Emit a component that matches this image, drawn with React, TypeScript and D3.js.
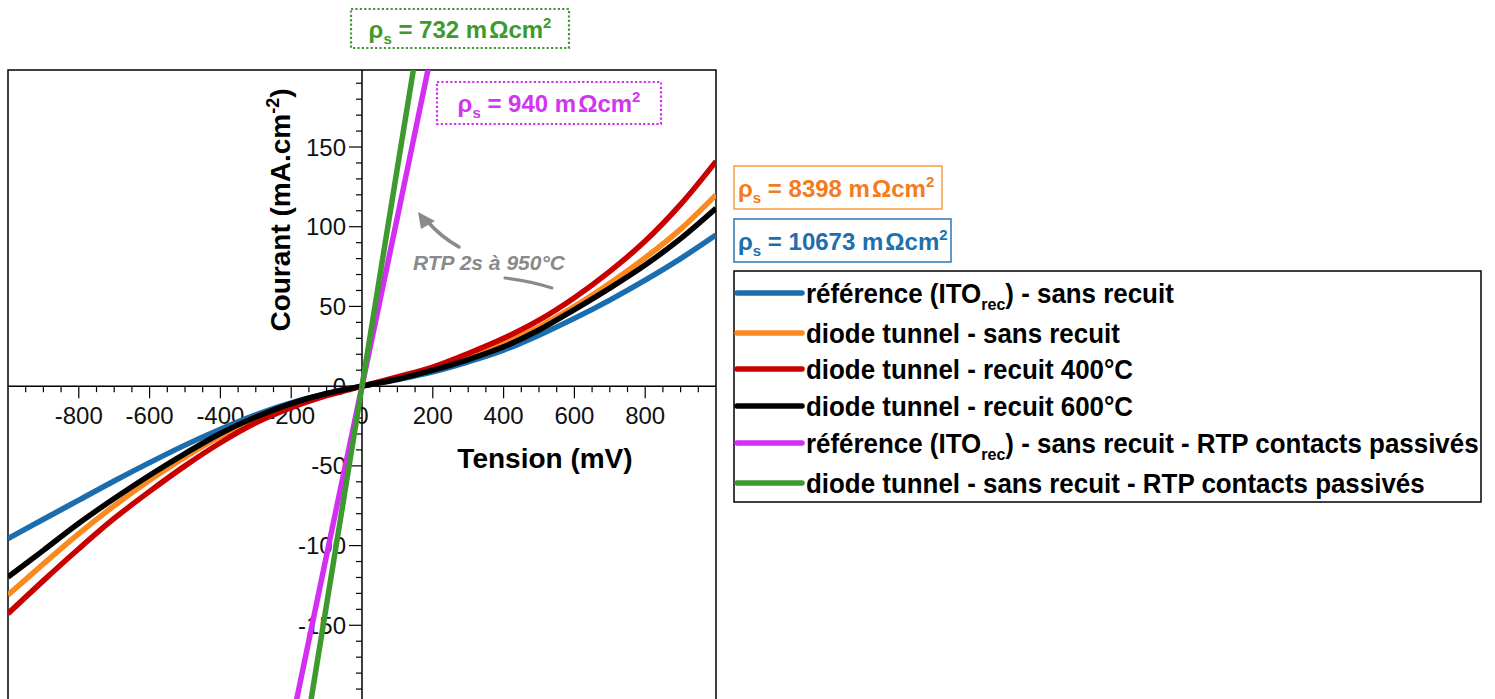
import React from 'react';
import * as d3 from 'd3';

// ---------- data ----------
const voltages = [-1000, -900, -800, -700, -600, -500, -400, -300, -200, -100, 0, 100, 200, 300, 400, 500, 600, 700, 800, 900, 1000];
const refSansRecuit = [-95.6, -83.5, -71.5, -59.5, -48, -37, -27, -18, -10.5, -4.8, 0, 4.2, 9, 15.3, 22.6, 32, 42.5, 54, 66.5, 80, 94.8];
const tunnelSansRecuit = [-131, -111.5, -92.5, -75, -59, -44.5, -31.5, -20.5, -12, -5.2, 0, 4.8, 10.6, 18, 26.8, 37.2, 50, 64.5, 80.5, 98.5, 120];
const tunnelRecuit400 = [-142.7, -122, -102, -83, -66, -50, -35.5, -23, -13.5, -6, 0, 5.8, 12, 20.5, 30, 41.4, 55.5, 72, 91, 114, 141];
const tunnelRecuit600 = [-119.7, -103, -86, -70.5, -55.9, -42.3, -29.7, -19.3, -10.9, -4.6, 0, 4.3, 10, 16.7, 24.7, 35.2, 48, 61.5, 76, 92.5, 111.5];

const rtpVoltages = [-200, -100, 0, 100, 200];
const refRtp = [-213, -106, 0, 106, 213];
const tunnelRtp = [-273, -137, 0, 137, 273];

const seriesLabels = [
  'référence (ITO_rec) - sans recuit',
  'diode tunnel - sans recuit',
  'diode tunnel - recuit 400°C',
  'diode tunnel - recuit 600°C',
  'référence (ITO_rec) - sans recuit - RTP contacts passivés',
  'diode tunnel - sans recuit - RTP contacts passivés',
];
const seriesColors = ['#1b6dae', '#fb8a1e', '#c80000', '#000000', '#d42ef4', '#3e9a2e'];

const xMajorTicks = [-800, -600, -400, -200, 0, 200, 400, 600, 800];
const yMajorTicks = [-150, -100, -50, 0, 50, 100, 150];

const resistivities = ['732', '940', '8398', '10673'];
const annotationText = 'RTP 2s à 950°C';

// ---------- layout ----------
const W = 1495;
const H = 699;
const plot = { left: 8, right: 716, top: 70, bottom: 705 };
const FONT = "'Liberation Sans', Arial, Helvetica, sans-serif";

const x = d3.scaleLinear().domain([-1000, 1000]).range([plot.left, plot.right]);
const y = d3.scaleLinear().domain([-200, 198.3]).range([plot.bottom, plot.top]);

const series = [
  { xs: voltages, ys: refSansRecuit },
  { xs: voltages, ys: tunnelSansRecuit },
  { xs: voltages, ys: tunnelRecuit400 },
  { xs: voltages, ys: tunnelRecuit600 },
  { xs: rtpVoltages, ys: refRtp },
  { xs: rtpVoltages, ys: tunnelRtp },
].map((s, i) => ({
  ...s,
  color: seriesColors[i],
  label: seriesLabels[i],
  points: s.xs.map((v, k) => [v, s.ys[k]] as [number, number]),
}));

const line = d3
  .line<[number, number]>()
  .x((d) => x(d[0]))
  .y((d) => y(d[1]))
  .curve(d3.curveCatmullRom.alpha(0.5));

function LabelWithSub({ text, x0, y0, size }: { text: string; x0: number; y0: number; size: number }) {
  const m = text.match(/^(.*)_(\w+)(.*)$/);
  return (
    <g transform={`translate(${x0},${y0}) scale(0.96,1)`}>
      <text x={0} y={0} fontSize={size} fontWeight="bold" fontFamily={FONT}>
        {m ? (
          <>
            {m[1]}
            <tspan fontSize={size * 0.62} dy={7}>{m[2]}</tspan>
            <tspan dy={-7}>{m[3]}</tspan>
          </>
        ) : (
          text
        )}
      </text>
    </g>
  );
}

function Rho({ value, x0, y0, color, anchor }: { value: string; x0: number; y0: number; color: string; anchor: string }) {
  return (
    <text x={x0} y={y0} fill={color} fontSize={24} fontWeight="bold" fontFamily={FONT} textAnchor={anchor as any}>
      ρ
      <tspan fontSize={15} dy={6}>s</tspan>
      <tspan dy={-6}>{` = ${value} m`}</tspan>
      <tspan dx={2}>Ωcm</tspan>
      <tspan fontSize={15} dy={-10}>2</tspan>
    </text>
  );
}

export default function App() {
  const xMinor = d3.range(-950, 1000, 50).filter((v) => v % 200 !== 0);
  const yMinor = d3.range(-190, 200, 10).filter((v) => v % 50 !== 0);
  const x0 = x(0);
  const y0 = y(0);

  const legendRows = [293, 333, 369, 406, 443, 483];

  return (
    <svg
      width={W}
      height={H}
      viewBox={`0 0 ${W} ${H}`}
      style={{ position: 'absolute', left: 0, top: 0, background: '#fff' }}
    >
      <defs>
        <clipPath id="plotClip">
          <rect x={plot.left} y={plot.top} width={plot.right - plot.left} height={plot.bottom - plot.top} />
        </clipPath>
      </defs>

      {/* frame */}
      <rect
        x={plot.left}
        y={plot.top}
        width={plot.right - plot.left}
        height={plot.bottom - plot.top + 10}
        fill="none"
        stroke="#000"
        strokeWidth={1.5}
      />

      {/* axes */}
      <line x1={plot.left} x2={plot.right} y1={y0} y2={y0} stroke="#000" strokeWidth={1.5} />
      <line x1={x0} x2={x0} y1={plot.top} y2={H} stroke="#000" strokeWidth={1.5} />

      {/* x ticks */}
      {xMinor.map((v) => (
        <line key={'xm' + v} x1={x(v)} x2={x(v)} y1={y0} y2={y0 + 6} stroke="#000" strokeWidth={1.2} />
      ))}
      {xMajorTicks.filter((v) => v !== 0).map((v) => (
        <line key={'xM' + v} x1={x(v)} x2={x(v)} y1={y0} y2={y0 + 12} stroke="#000" strokeWidth={1.2} />
      ))}
      {/* y ticks */}
      {yMinor.map((v) => (
        <line key={'ym' + v} x1={x0 - 6} x2={x0} y1={y(v)} y2={y(v)} stroke="#000" strokeWidth={1.2} />
      ))}
      {yMajorTicks.filter((v) => v !== 0).map((v) => (
        <line key={'yM' + v} x1={x0 - 13} x2={x0} y1={y(v)} y2={y(v)} stroke="#000" strokeWidth={1.2} />
      ))}

      {/* tick labels */}
      {xMajorTicks.map((v) => (
        <text key={'xl' + v} x={x(v)} y={y0 + 38} fontSize={24} fontFamily={FONT} textAnchor="middle" fill="#111">
          {v}
        </text>
      ))}
      {yMajorTicks.map((v) => (
        <text key={'yl' + v} x={x0 - 16} y={y(v) + 8.5} fontSize={24} fontFamily={FONT} textAnchor="end" fill="#111">
          {v}
        </text>
      ))}

      {/* axis titles */}
      <text x={545} y={468} fontSize={28} fontWeight="bold" fontFamily={FONT} textAnchor="middle">
        Tension (mV)
      </text>
      <text
        transform="translate(290,210) rotate(-90)"
        fontSize={28}
        fontWeight="bold"
        fontFamily={FONT}
        textAnchor="middle"
      >
        Courant (mA.cm
        <tspan fontSize={18} dy={-11}>-2</tspan>
        <tspan dy={11}>)</tspan>
      </text>

      {/* series */}
      <g clipPath="url(#plotClip)">
        {series.map((s, i) => (
          <path key={i} d={line(s.points) || ''} fill="none" stroke={s.color} strokeWidth={5.5} strokeLinejoin="round" />
        ))}
      </g>

      {/* RTP annotation */}
      <g fill="#8a8a8a" stroke="#8a8a8a">
        <path d="M459,247 Q440,236 428,222" fill="none" strokeWidth={3.5} strokeLinecap="round" />
        <path d="M418,212 L421,229 L435,221 Z" stroke="none" />
        <path d="M505,278 Q530,281 552,288" fill="none" strokeWidth={3} strokeLinecap="round" />
      </g>
      <text x={413} y={270} fontSize={21} fontWeight="bold" fontStyle="italic" fill="#8a8a8a" fontFamily={FONT}>
        {annotationText}
      </text>

      {/* resistivity boxes */}
      <rect x={351} y={9} width={218} height={39} fill="#fff" stroke={seriesColors[5]} strokeWidth={2.2} strokeDasharray="2.2,2.2" />
      <Rho value={resistivities[0]} x0={460} y0={38} color="#3e9a2e" anchor="middle" />

      <rect x={437} y={82} width={224} height={42} fill="#fff" stroke={seriesColors[4]} strokeWidth={2.2} strokeDasharray="2.2,2.2" />
      <Rho value={resistivities[1]} x0={549} y0={112} color="#d235f0" anchor="middle" />

      <rect x={734} y={166} width={208} height={43} fill="#fff" stroke="#f89a45" strokeWidth={1.5} />
      <Rho value={resistivities[2]} x0={738} y0={197} color="#f47b20" anchor="start" />

      <rect x={734} y={219} width={217} height={43} fill="#fff" stroke="#2a78b6" strokeWidth={1.5} />
      <Rho value={resistivities[3]} x0={738} y0={250} color="#1d6fae" anchor="start" />

      {/* legend */}
      <rect x={734} y={271} width={747} height={231} fill="#fff" stroke="#000" strokeWidth={1.5} />
      {series.map((s, i) => (
        <g key={'lg' + i}>
          <line x1={737} x2={802} y1={legendRows[i]} y2={legendRows[i]} stroke={s.color} strokeWidth={5.5} strokeLinecap="round" />
          <LabelWithSub text={s.label} x0={806} y0={legendRows[i] + 9.5} size={27} />
        </g>
      ))}
    </svg>
  );
}
